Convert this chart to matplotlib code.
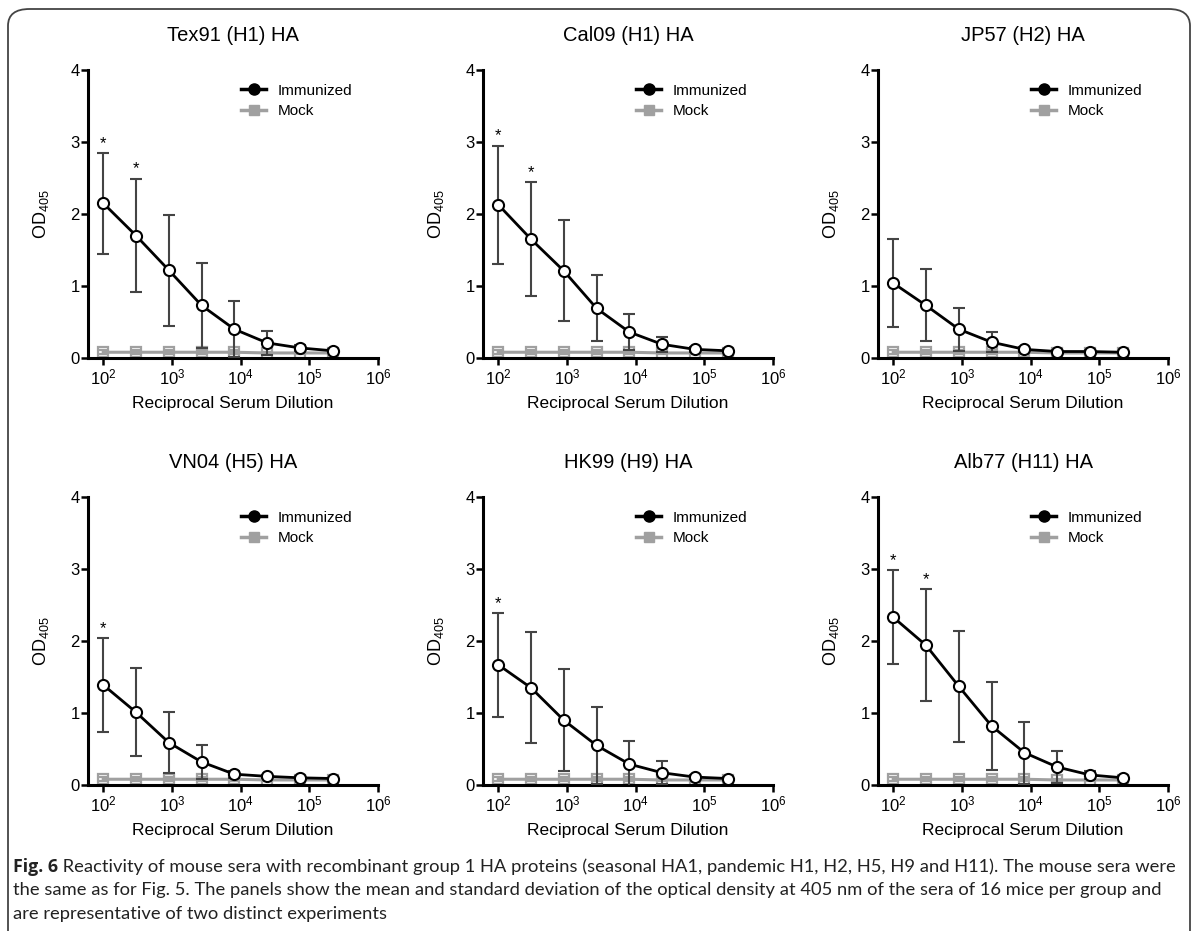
import matplotlib
matplotlib.use("Agg")
import matplotlib.pyplot as plt
from matplotlib.lines import Line2D
from matplotlib.patches import FancyBboxPatch

plt.rcParams['font.family'] = ['Liberation Sans', 'DejaVu Sans']
plt.rcParams['mathtext.fontset'] = 'custom'
plt.rcParams['mathtext.rm'] = 'Liberation Sans'
plt.rcParams['mathtext.it'] = 'Liberation Sans'

# reciprocal serum dilutions (3-fold series)
dilutions = [100, 300, 900, 2700, 8100, 24300, 72900, 218700]

titles = ["Tex91 (H1) HA", "Cal09 (H1) HA", "JP57 (H2) HA",
          "VN04 (H5) HA", "HK99 (H9) HA", "Alb77 (H11) HA"]

imm_mean = [
    [2.15, 1.70, 1.22, 0.73, 0.40, 0.21, 0.14, 0.10],
    [2.13, 1.65, 1.21, 0.69, 0.36, 0.19, 0.12, 0.10],
    [1.04, 0.73, 0.40, 0.22, 0.12, 0.09, 0.09, 0.08],
    [1.39, 1.01, 0.59, 0.32, 0.15, 0.12, 0.10, 0.09],
    [1.67, 1.35, 0.90, 0.55, 0.29, 0.17, 0.11, 0.09],
    [2.33, 1.94, 1.37, 0.82, 0.45, 0.25, 0.14, 0.10],
]
imm_sd = [
    [0.70, 0.79, 0.77, 0.59, 0.39, 0.17, 0.04, 0.02],
    [0.82, 0.79, 0.70, 0.46, 0.25, 0.10, 0.03, 0.02],
    [0.61, 0.50, 0.30, 0.14, 0.03, 0.02, 0.02, 0.01],
    [0.65, 0.61, 0.43, 0.24, 0.05, 0.02, 0.02, 0.01],
    [0.72, 0.77, 0.71, 0.53, 0.32, 0.16, 0.03, 0.02],
    [0.65, 0.78, 0.77, 0.61, 0.43, 0.22, 0.06, 0.02],
]
mock_mean = [0.08, 0.08, 0.08, 0.08, 0.08, 0.07, 0.07, 0.07]
mock_sd = [0.03, 0.03, 0.03, 0.03, 0.03, 0.02, 0.02, 0.02]

# indices of points marked significant
stars = [[0, 1], [0, 1], [], [0], [0], [0, 1]]

caption_bold = "Fig. 6"
caption_lines = [
    " Reactivity of mouse sera with recombinant group 1 HA proteins (seasonal HA1, pandemic H1, H2, H5, H9 and H11). The mouse sera were",
    "the same as for Fig. 5. The panels show the mean and standard deviation of the optical density at 405 nm of the sera of 16 mice per group and",
    "are representative of two distinct experiments",
]

W, H = 1195, 931
fig = plt.figure(figsize=(W / 100, H / 100), dpi=100)

# rounded frame around the figure
frame = FancyBboxPatch((8 / W, -0.02), (W - 13) / W, 1 - 9 / H + 0.02,
                       boxstyle="round,pad=0,rounding_size=0.018",
                       transform=fig.transFigure, fill=False,
                       edgecolor="#444444", linewidth=1.3)
fig.patches.append(frame)

lefts = [88, 483, 878]
tops = [70, 497]
aw, ah = 290, 288

for i in range(6):
    r, c = divmod(i, 3)
    ax = fig.add_axes([lefts[c] / W, 1 - (tops[r] + ah) / H, aw / W, ah / H])

    ax.errorbar(dilutions, mock_mean, yerr=mock_sd, color="#a0a0a0",
                marker="s", markersize=7, markerfacecolor="none",
                markeredgewidth=1.6, linewidth=2.2, capsize=4,
                elinewidth=1.3, ecolor="#a0a0a0", zorder=2)
    ax.errorbar(dilutions, imm_mean[i], yerr=imm_sd[i], color="black",
                marker="o", markersize=8, markerfacecolor="white",
                markeredgewidth=1.5, linewidth=2, capsize=4.5,
                elinewidth=1.5, ecolor="#444444", capthick=1.5, zorder=3)

    for k in stars[i]:
        ax.text(dilutions[k], imm_mean[i][k] + imm_sd[i][k] + 0.03, "*",
                ha="center", va="bottom", fontsize=12)

    ax.set_xscale("log")
    ax.set_xlim(60, 1e6)
    ax.set_ylim(0, 4)
    ax.set_xticks([1e2, 1e3, 1e4, 1e5, 1e6])
    ax.set_xticklabels([r"$10^{%d}$" % e for e in range(2, 7)])
    ax.xaxis.set_minor_locator(matplotlib.ticker.NullLocator())
    ax.set_yticks([0, 1, 2, 3, 4])
    ax.tick_params(axis="both", labelsize=12, width=1.8, length=5,
                   direction="out", colors="black")
    ax.tick_params(axis="x", labelsize=12, pad=2)
    ax.tick_params(axis="y", pad=1)
    for side in ["top", "right"]:
        ax.spines[side].set_visible(False)
    for side in ["left", "bottom"]:
        ax.spines[side].set_linewidth(2.2)
    ax.spines["bottom"].set_bounds(60, 1e6)

    ax.set_title(titles[i], fontsize=14.5, pad=21)
    ax.set_xlabel("Reciprocal Serum Dilution", fontsize=12.5, labelpad=6)
    ax.set_ylabel(r"OD$_{405}$", fontsize=13, labelpad=14)

    handles = [
        Line2D([], [], color="black", marker="o", markersize=8,
               markerfacecolor="black", linewidth=2.5),
        Line2D([], [], color="#a0a0a0", marker="s", markersize=7,
               markerfacecolor="#a0a0a0", linewidth=2.5),
    ]
    ax.legend(handles, ["Immunized", "Mock"], loc="upper right",
              bbox_to_anchor=(0.96, 1.0), frameon=False, fontsize=11,
              handlelength=1.6, handletextpad=0.8, labelspacing=0.4)

# caption
y0 = 1 - 867 / H
t = fig.text(13 / W, y0, caption_bold, fontsize=12.8, fontweight="bold",
             family="Open Sans", va="center", color="#222222")
fig.canvas.draw()
bb = t.get_window_extent()
fig.text(bb.x1 / W, y0, caption_lines[0], fontsize=13.2, family="Lato",
         va="center", color="#222222")
for j, line in enumerate(caption_lines[1:]):
    fig.text(13 / W, y0 - (j + 1) * 23.5 / H, line, fontsize=13.2,
             family="Lato", va="center", color="#222222")

fig.savefig("out.png", dpi=100)
